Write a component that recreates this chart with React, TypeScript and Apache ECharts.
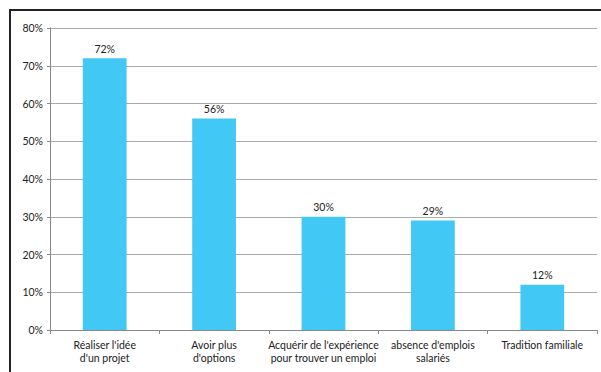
import React, { useEffect, useRef } from "react";
import * as echarts from "echarts";

const categories = [
  "Réaliser l'idée\nd'un projet",
  "Avoir plus\nd'options",
  "Acquérir de l'expérience\npour trouver un emploi",
  "absence d'emplois\nsalariés",
  "Tradition familiale",
];
const values = [72, 56, 30, 29, 12];

export default function App() {
  const ref = useRef<HTMLDivElement>(null);
  useEffect(() => {
    if (!ref.current) return;
    const chart = echarts.init(ref.current, null, { renderer: "svg" });
    const font = "Lato, 'DejaVu Sans', sans-serif";
    chart.setOption({
      animation: false,
      backgroundColor: "#ffffff",
      graphic: [
        {
          type: "rect",
          shape: { x: 10, y: 10, width: 600, height: 380 },
          style: { fill: "none", stroke: "#222", lineWidth: 2 },
          silent: true,
        },
      ],
      grid: { left: 50, right: 4, top: 28, bottom: 42 },
      xAxis: {
        type: "category",
        data: categories,
        axisLine: { lineStyle: { color: "#888", width: 1 } },
        axisTick: { show: true, length: 4, lineStyle: { color: "#888" } },
        axisLabel: {
          color: "#222",
          fontSize: 10.5,
          fontFamily: font,
          lineHeight: 13,
          margin: 8,
          interval: 0,
        },
      },
      yAxis: {
        type: "value",
        min: 0,
        max: 80,
        interval: 10,
        axisLine: { show: true, lineStyle: { color: "#888", width: 1 } },
        axisTick: { show: true, length: 3, lineStyle: { color: "#888" } },
        splitLine: { lineStyle: { color: "#aaa", width: 1 } },
        axisLabel: {
          formatter: "{value}%",
          color: "#222",
          fontSize: 10.5,
          fontFamily: font,
          margin: 7,
        },
      },
      series: [
        {
          type: "bar",
          data: values,
          barWidth: "40%",
          itemStyle: { color: "#42C8F4" },
          label: {
            show: true,
            position: "top",
            distance: 4,
            formatter: "{c}%",
            color: "#222",
            fontSize: 10.5,
            fontFamily: font,
          },
        },
      ],
    });
    return () => chart.dispose();
  }, []);
  return (
    <div
      ref={ref}
      style={{ position: "fixed", left: 0, top: 0, width: 601, height: 372 }}
    />
  );
}
